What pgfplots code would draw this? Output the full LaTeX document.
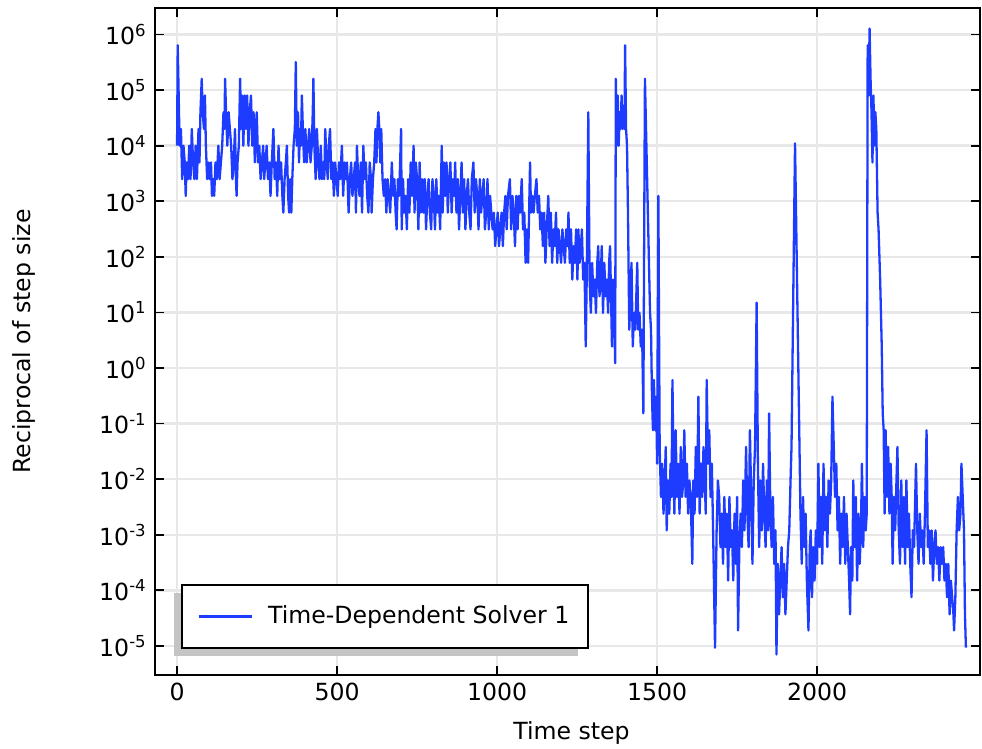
\documentclass[border=0pt]{standalone}
\usepackage{fontspec}
\setmainfont{DejaVu Sans}
\usepackage{pgfplots}
\pgfplotsset{compat=1.18}
\definecolor{lineblue}{RGB}{30,60,255}
\definecolor{gridgray}{RGB}{232,232,232}
\definecolor{shadowgray}{RGB}{196,196,196}
\begin{document}
\fontsize{11.8pt}{14pt}\selectfont
\begin{tikzpicture}
\begin{axis}[
  scale only axis, width=412.5pt, height=333.5pt,
  xmin=-69, xmax=2509,
  ymode=log, ymin=3e-6, ymax=3e6,
  xtick={0,500,1000,1500,2000}, xticklabels={0,500,1000,1500,2000},
  ytick={1e-5,1e-4,1e-3,1e-2,1e-1,1,10,100,1000,1e4,1e5,1e6},
  yticklabels={10\textsuperscript{-5},10\textsuperscript{-4},10\textsuperscript{-3},10\textsuperscript{-2},10\textsuperscript{-1},10\textsuperscript{0},10\textsuperscript{1},10\textsuperscript{2},10\textsuperscript{3},10\textsuperscript{4},10\textsuperscript{5},10\textsuperscript{6}},
  yminorticks=false, xminorticks=false,
  tick align=inside, major tick length=4.5pt,
  xtick pos=both, ytick pos=both,
  grid=major, major grid style={gridgray, line width=1.2pt},
  axis line style={line width=0.9pt},
  every tick/.style={black, line width=0.9pt},
  xlabel={Time step}, ylabel={Reciprocal of step size},
  every axis x label/.style={at={(axis description cs:0.5,0)}, anchor=center, yshift=-29pt, xshift=2pt},
  every axis y label/.style={at={(axis description cs:0,0.5)}, anchor=center, rotate=90, yshift=65.5pt},
  legend style={at={(axis description cs:0,0)}, anchor=south west, xshift=13pt, yshift=13pt,
    draw=black, line width=0.8pt, fill=white, inner xsep=1.75pt, inner ysep=10.5pt,
    nodes={inner xsep=7.5pt, inner ysep=0pt}},
  legend cell align=left,
  legend image code/.code={\path (-6.25pt,0pt); \draw[#1, line width=1.1pt] (0pt,0pt) -- (26.5pt,0pt);},
]
\fill[shadowgray] ([xshift=9.5pt,yshift=9.5pt]axis description cs:0,0) rectangle ([xshift=211.75pt,yshift=41pt]axis description cs:0,0);
\addplot[color=lineblue, line width=1.15pt, line join=round, mark=none] table {
x y
0 1e4
2 6.4e5
4 1.6e5
6 4e4
8 1e4
12 2e4
16 2.5e3
20 1e4
24 5e3
27 1.25e3
30 5e3
34 2.5e3
38 1e4
42 2.5e3
46 2e4
50 5e3
54 2.5e3
58 1e4
62 2.5e3
67 2e4
70 5e3
73 4e4
77 1.6e5
80 4e4
84 2e4
87 8e4
90 1e4
94 2.5e3
98 5e3
102 2.5e3
106 5e3
109 1.25e3
113 2.5e3
116 1.25e3
120 5e3
124 2.5e3
129 1e4
133 2.5e3
137 5e3
141 1e4
145 4e4
148 2e4
150 1.6e5
153 4e4
157 1e4
161 4e4
165 2e4
169 1e4
173 2.5e3
177 5e3
181 2e4
184 2.5e3
186 1.25e3
189 5e3
193 1e4
197 1.6e5
200 2e4
203 8e4
207 1e4
211 8e4
215 2e4
219 8e4
223 1e4
227 4e4
231 8e4
235 1e4
239 4e4
243 5e3
246 2e4
249 4e4
253 5e3
257 1e4
261 2.5e3
265 5e3
269 1e4
272 2.5e3
276 5e3
280 1e4
284 2.5e3
288 5e3
292 1.25e3
296 5e3
301 2e4
305 2.5e3
309 5e3
313 1.25e3
317 1e4
321 2.5e3
325 5e3
329 1.25e3
332 625
336 2.5e3
340 5e3
343 1e4
347 1.25e3
350 625
353 2.5e3
357 625
360 2.5e3
364 1e4
368 2e4
371 3.2e5
374 1e4
378 4e4
381 5e3
384 2e4
387 1e4
390 8e4
393 2e4
397 5e3
401 2e4
405 5e3
409 1e4
413 2e4
417 5e3
421 1e4
424 4e4
426 1.6e5
429 1e4
433 2.5e3
437 2e4
441 5e3
445 2.5e3
449 1e4
453 2.5e3
457 5e3
460 2.5e3
463 2e4
467 5e3
471 2.5e3
474 1e4
478 2e4
482 2.5e3
486 5e3
490 1.25e3
494 5e3
498 2.5e3
502 1.25e3
506 5e3
510 2.5e3
515 1e4
519 1.25e3
523 5e3
527 2.5e3
531 5e3
536 625
540 2.5e3
544 5e3
548 1.25e3
552 2.5e3
556 5e3
559 625
562 1e4
566 2.5e3
570 1.25e3
574 5e3
578 625
582 1e4
586 2.5e3
590 5e3
594 1.25e3
598 625
602 5e3
606 2.5e3
608 625
612 2.5e3
616 5e3
620 2e4
623 5e3
626 2e4
629 4e4
632 2e4
635 5e3
638 2e4
642 2.5e3
646 1.25e3
650 2.5e3
654 625
658 2.5e3
662 1.25e3
666 625
671 5e3
675 1.25e3
679 2.5e3
683 625
686 312
690 2.5e3
694 1.25e3
697 5e3
700 2e4
702 312
706 2.5e3
710 625
714 1.25e3
718 312
722 2.5e3
726 625
730 5e3
734 1.25e3
739 1e4
742 625
746 5e3
750 2.5e3
754 312
758 5e3
762 625
766 2.5e3
770 625
774 2.5e3
778 312
782 1.25e3
786 2.5e3
790 625
794 312
798 2.5e3
802 1.25e3
806 312
810 2.5e3
814 625
818 1.25e3
822 312
827 1e4
830 625
834 5e3
838 1.25e3
842 5e3
846 625
850 2.5e3
854 5e3
858 625
862 2.5e3
866 1.25e3
869 5e3
873 625
877 2.5e3
881 312
885 1.25e3
889 5e3
893 625
897 2.5e3
901 312
905 1.25e3
909 2.5e3
913 625
917 312
921 2.5e3
926 5e3
930 625
934 2.5e3
938 1.25e3
942 312
946 2.5e3
950 625
954 1.25e3
958 2.5e3
962 312
966 625
970 2.5e3
974 312
978 1.25e3
982 625
986 312
990 625
994 156
998 312
1002 625
1006 156
1010 312
1014 625
1018 156
1022 625
1026 1.25e3
1030 312
1034 1.25e3
1040 2.5e3
1044 312
1048 1.25e3
1052 625
1056 156
1060 1.25e3
1064 312
1068 1.25e3
1072 625
1077 2.5e3
1081 312
1085 625
1089 78
1093 312
1097 78
1100 625
1103 5e3
1106 625
1110 1.25e3
1114 625
1118 1.25e3
1123 2.5e3
1127 625
1131 1.25e3
1135 312
1139 625
1143 156
1147 625
1151 78
1155 312
1160 1.25e3
1164 156
1168 625
1172 78
1176 312
1180 156
1184 625
1188 78
1192 312
1196 156
1200 78
1204 312
1208 156
1212 78
1216 312
1220 156
1223 625
1227 78
1231 312
1235 39
1239 156
1243 78
1247 312
1251 39
1254 312
1258 78
1262 156
1265 312
1269 39
1273 78
1277 2.44
1280 39
1285 4e4
1289 39
1293 9.8
1297 78
1301 19.5
1305 39
1309 9.8
1313 78
1316 156
1320 19.5
1324 39
1327 156
1331 9.8
1335 78
1339 19.5
1343 39
1347 9.8
1350 78
1353 156
1356 19.5
1359 2.44
1362 39
1366 9.8
1369 1.22
1371 1.6e5
1374 1e4
1377 8e4
1380 1e4
1383 4e4
1386 2e4
1389 8e4
1392 2e4
1395 4e4
1398 2e4
1400 6.4e5
1403 2e4
1406 1e4
1409 625
1413 4.9
1417 19.5
1420 78
1424 2.44
1428 9.8
1432 4.9
1435 19.5
1438 78
1441 4.9
1445 9.8
1449 2.44
1453 4.9
1457 0.153
1462 1.6e5
1478 9.8
1481 4.9
1484 0.305
1487 0.076
1490 0.61
1494 0.076
1497 0.305
1500 0.019
1504 1.25e3
1508 0.038
1512 0.0048
1516 0.019
1520 0.0024
1524 0.0095
1527 0.038
1530 0.0012
1534 0.0095
1538 0.0024
1542 0.019
1545 0.0048
1548 0.61
1551 0.019
1554 0.0024
1558 0.076
1562 0.0048
1566 0.019
1570 0.0024
1574 0.038
1578 0.0048
1582 0.0095
1585 0.076
1589 0.0048
1593 0.019
1597 0.0024
1601 0.0095
1605 0.0048
1610 3e-4
1613 0.0095
1617 0.0024
1621 0.038
1625 0.0048
1629 0.305
1633 0.0024
1637 0.019
1641 0.0048
1645 0.038
1649 0.0095
1652 0.0024
1655 0.61
1659 0.019
1663 0.076
1667 0.0048
1671 0.019
1675 0.0012
1681 9.3e-6
1686 0.0012
1690 0.0095
1694 0.0048
1698 6e-4
1702 0.0024
1706 3e-4
1710 0.0048
1714 6e-4
1718 0.0024
1722 1.5e-4
1726 0.0048
1730 6e-4
1734 0.0012
1738 1.5e-4
1742 0.0024
1746 3e-4
1750 0.0048
1753 1.9e-5
1757 6e-4
1761 0.0024
1765 6e-4
1769 0.0095
1773 0.0012
1778 0.038
1782 0.0024
1786 6e-4
1790 0.076
1794 0.0048
1798 3e-4
1802 0.0095
1806 0.038
1811 15
1815 0.019
1819 6e-4
1823 0.0095
1827 0.0012
1831 0.019
1835 0.0024
1839 6e-4
1843 0.0095
1847 0.0012
1850 0.153
1854 0.0024
1858 6e-4
1862 0.0048
1866 3e-4
1870 0.0012
1873 7e-6
1877 3e-4
1881 3.7e-5
1885 1.5e-4
1889 6e-4
1893 7.5e-5
1897 3e-4
1901 3.7e-5
1905 1.5e-4
1909 6e-4
1913 0.0012
1917 0.0095
1920 0.038
1931 1.1e4
1948 0.0024
1952 3e-4
1956 0.0048
1960 6e-4
1964 0.0024
1968 1.5e-4
1973 1.9e-5
1977 6e-4
1980 0.0012
1984 7.5e-5
1988 6e-4
1992 1.5e-4
1996 0.0012
2000 3e-4
2004 0.019
2008 6e-4
2012 0.0048
2016 3e-4
2020 0.019
2024 0.0012
2028 0.0048
2032 6e-4
2036 0.0095
2040 0.0024
2044 0.0095
2048 0.305
2052 0.038
2056 0.0048
2060 0.019
2064 0.0012
2068 0.0048
2072 3e-4
2076 0.0024
2080 6e-4
2084 0.0048
2088 3e-4
2092 0.0024
2096 6e-4
2100 1.5e-4
2103 3.7e-5
2106 6e-4
2110 1.5e-4
2113 0.0095
2117 6e-4
2121 0.0048
2125 1.5e-4
2129 0.0024
2133 3e-4
2137 0.0012
2140 0.019
2144 6e-4
2148 0.0048
2152 0.0012
2155 0.0024
2158 6.4e5
2161 8e4
2164 1.28e6
2167 1.6e5
2170 4e4
2173 5e3
2176 8e4
2179 1e4
2182 4e4
2185 2e4
2189 625
2192 312
2197 39
2202 2.44
2205 0.153
2208 0.076
2211 0.0024
2214 0.076
2218 0.0048
2222 0.038
2226 0.0024
2230 0.019
2233 0.0048
2236 3e-4
2240 0.0048
2244 0.0012
2248 0.0095
2251 0.038
2255 0.0012
2259 3e-4
2263 0.0095
2267 6e-4
2271 0.0048
2275 3e-4
2279 0.0095
2283 6e-4
2287 0.0024
2291 3e-4
2295 7.5e-5
2299 0.0012
2303 6e-4
2309 0.019
2313 0.0012
2317 3e-4
2321 0.0024
2325 6e-4
2329 0.0012
2333 3e-4
2337 0.0024
2342 0.076
2346 6e-4
2350 0.0012
2354 3e-4
2358 0.0012
2362 1.5e-4
2366 6e-4
2370 0.0012
2374 3e-4
2378 6e-4
2382 1.5e-4
2386 6e-4
2390 3e-4
2394 6e-4
2398 1.5e-4
2402 3e-4
2406 7.5e-5
2410 3e-4
2414 3.7e-5
2418 1.5e-4
2422 7.5e-5
2426 3.7e-5
2428 1.9e-5
2432 7.5e-5
2436 0.0012
2440 0.0048
2444 0.0012
2448 0.0024
2451 0.019
2455 0.0048
2459 0.0012
2462 3.7e-5
2465 9.3e-6
};
\addlegendentry{Time-Dependent Solver 1}
\end{axis}
\pgfresetboundingbox
\path[use as bounding box] ([xshift=-77.5pt,yshift=-37pt]current axis.south west) rectangle ([xshift=1pt,yshift=4pt]current axis.north east);
\end{tikzpicture}
\end{document}
